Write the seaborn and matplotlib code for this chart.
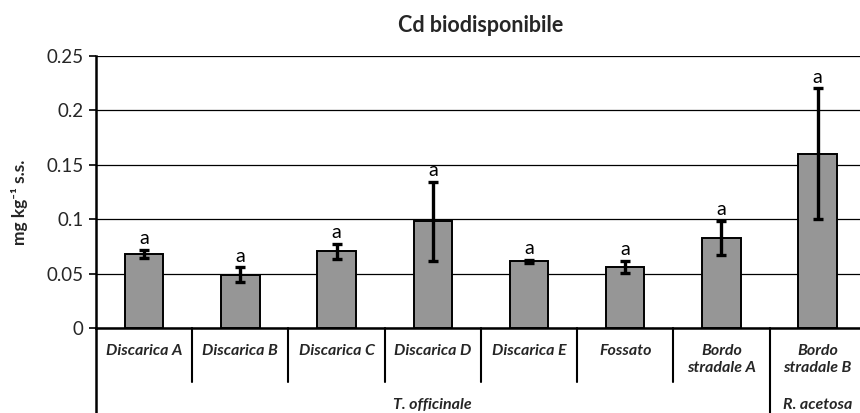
import matplotlib
matplotlib.use("Agg")
import matplotlib.pyplot as plt
import matplotlib.transforms as mtransforms
import seaborn as sns
import pandas as pd

# Sites (first-level category labels), species groups and measured values
sites = ["Discarica A", "Discarica B", "Discarica C", "Discarica D",
         "Discarica E", "Fossato", "Bordo\nstradale A", "Bordo\nstradale B"]
species = ["T. officinale", "R. acetosa"]
species_span = [(0, 6), (7, 7)]  # index ranges of sites belonging to each species
cd_mean = [0.068, 0.049, 0.0705, 0.098, 0.0613, 0.056, 0.0828, 0.160]
cd_err = [0.004, 0.0066, 0.0067, 0.0365, 0.0015, 0.0058, 0.0155, 0.060]
letters = ["a", "a", "a", "a", "a", "a", "a", "a"]
yticks = [0, 0.05, 0.1, 0.15, 0.2, 0.25]
ytick_labels = ["0", "0.05", "0.1", "0.15", "0.2", "0.25"]

sns.set_style("white")
plt.rcParams["font.family"] = ["Lato", "DejaVu Sans"]

df = pd.DataFrame({"site": sites, "cd": cd_mean})

fig = plt.figure(figsize=(8.6, 4.13), dpi=100)
ax = fig.add_axes([96 / 860, 85 / 413, 1 - 96 / 860, 272.3 / 413])

sns.barplot(data=df, x="site", y="cd", color="#969696", edgecolor="black",
            linewidth=1.4, width=0.4, saturation=1, ax=ax, zorder=3)
ax.errorbar(range(len(sites)), cd_mean, yerr=cd_err, fmt="none",
            ecolor="black", elinewidth=2.4, capsize=3.5, capthick=2.4, zorder=4)

for i, (m, e, lab) in enumerate(zip(cd_mean, cd_err, letters)):
    ax.annotate(lab, (i, m + e), xytext=(0, 2), textcoords="offset points",
                ha="center", va="bottom", fontsize=14, color="black")

ax.set_xlim(-0.5, 7.44)
ax.set_ylim(0, 0.25)
ax.set_yticks(yticks)
ax.set_yticklabels(ytick_labels, fontsize=13.5)
ax.tick_params(axis="y", which="major", direction="out", length=5, width=1.2,
               color="black", left=True, pad=4)
ax.yaxis.grid(True, color="black", linewidth=0.9)
ax.set_axisbelow(True)

ax.set_xticks([])
ax.set_xlabel("")
ax.set_ylabel("mg kg\u207b\u00b9 s.s.", fontsize=12.5, fontweight="bold")
ax.yaxis.set_label_coords((28 - 96) / 764, 0.46)

for side in ["top", "right"]:
    ax.spines[side].set_visible(False)
for side in ["left", "bottom"]:
    ax.spines[side].set_color("black")
    ax.spines[side].set_linewidth(1.8)

ax.set_title("Cd biodisponibile", fontsize=15.5, fontweight="bold", pad=17,
             x=(481 - 96) / (860 - 96))

# Two-level category axis below the plot
trans = mtransforms.blended_transform_factory(ax.transData, ax.transAxes)
lvl1 = -54 / 272.3
lvl2 = -86 / 272.3
ax.plot([-0.5, -0.5], [0, lvl2], transform=trans, color="black", lw=1.8,
        clip_on=False)
group_edges = {end + 0.5 for _, end in species_span}
for i in range(len(sites) - 1):
    b = i + 0.5
    low = lvl2 if b in group_edges else lvl1
    ax.plot([b, b], [0, low], transform=trans, color="black", lw=1.5,
            clip_on=False)

for i, s in enumerate(sites):
    ax.text(i, -16 / 272.3, s, transform=trans, ha="center", va="top",
            fontsize=11.5, fontweight="bold", fontstyle="italic",
            linespacing=1.3)

for name, (a, b) in zip(species, species_span):
    ax.text((a + b) / 2, -77 / 272.3, name, transform=trans, ha="center",
            va="center", fontsize=11.5, fontweight="bold", fontstyle="italic")

fig.savefig("out.png", dpi=100)
